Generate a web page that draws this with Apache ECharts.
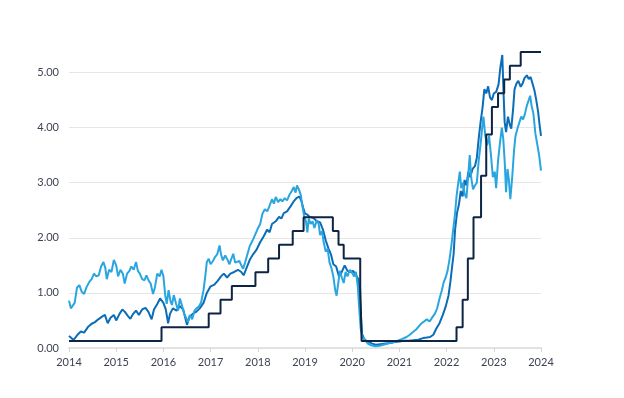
<!DOCTYPE html>
<html>
<head>
<meta charset="utf-8">
<script src="https://cdn.jsdelivr.net/npm/echarts@6/dist/echarts.min.js"></script>
<style>
  * { margin: 0px; padding: 0px; }
  body { background: #fff; }
  #main { width: 624px; height: 398px; }
</style>
</head>
<body>
<div id="main"></div>
<script type="text/javascript">
// x values are decimal years, y values are rates in %
var yearTicks = [2014, 2015, 2016, 2017, 2018, 2019, 2020, 2021, 2022, 2023, 2024];

// policy rate (mid of target range), one point per change
var policyRate = [
  [2014.00, 0.125], [2015.96, 0.375], [2016.96, 0.625], [2017.21, 0.875], [2017.45, 1.125],
  [2017.95, 1.375], [2018.22, 1.625], [2018.45, 1.875], [2018.74, 2.125], [2018.97, 2.375],
  [2019.59, 2.125], [2019.71, 1.875], [2019.82, 1.625], [2020.17, 1.125], [2020.20, 0.125],
  [2022.21, 0.375], [2022.34, 0.875], [2022.45, 1.625], [2022.57, 2.375], [2022.73, 3.125],
  [2022.84, 3.875], [2022.96, 4.375], [2023.09, 4.625], [2023.22, 4.875], [2023.34, 5.125],
  [2023.57, 5.375], [2024.00, 5.375]
];

var midBlue = [
  [2014.00, 0.22], [2014.05, 0.18], [2014.10, 0.15], [2014.18, 0.24], [2014.25, 0.30], [2014.32, 0.28],
  [2014.40, 0.38], [2014.48, 0.44], [2014.55, 0.47], [2014.62, 0.52], [2014.70, 0.57], [2014.76, 0.60],
  [2014.82, 0.45], [2014.88, 0.55], [2014.95, 0.60], [2015.00, 0.50], [2015.07, 0.62], [2015.13, 0.70],
  [2015.18, 0.66], [2015.25, 0.58], [2015.30, 0.53], [2015.36, 0.62], [2015.42, 0.68], [2015.48, 0.60],
  [2015.55, 0.70], [2015.62, 0.73], [2015.68, 0.66], [2015.75, 0.52], [2015.80, 0.70], [2015.87, 0.80],
  [2015.93, 0.90], [2016.00, 0.82], [2016.05, 0.70], [2016.10, 0.45], [2016.14, 0.62], [2016.20, 0.72],
  [2016.28, 0.68], [2016.35, 0.76], [2016.42, 0.70], [2016.46, 0.56], [2016.50, 0.42], [2016.55, 0.56],
  [2016.62, 0.62], [2016.70, 0.66], [2016.77, 0.72], [2016.85, 0.82], [2016.92, 1.00], [2017.00, 1.12],
  [2017.08, 1.15], [2017.15, 1.22], [2017.22, 1.30], [2017.28, 1.35], [2017.35, 1.28], [2017.42, 1.35],
  [2017.50, 1.38], [2017.58, 1.42], [2017.65, 1.38], [2017.70, 1.32], [2017.76, 1.45], [2017.83, 1.60],
  [2017.90, 1.70], [2017.97, 1.78], [2018.05, 1.92], [2018.12, 2.02], [2018.20, 2.15], [2018.25, 2.10],
  [2018.30, 2.25], [2018.38, 2.30], [2018.45, 2.38], [2018.50, 2.35], [2018.55, 2.45], [2018.62, 2.48],
  [2018.70, 2.58], [2018.76, 2.66], [2018.82, 2.72], [2018.88, 2.75], [2018.92, 2.68], [2018.96, 2.55],
  [2019.00, 2.44], [2019.05, 2.42], [2019.10, 2.38], [2019.18, 2.36], [2019.25, 2.30], [2019.32, 2.28],
  [2019.38, 2.15], [2019.44, 1.95], [2019.50, 1.80], [2019.55, 1.70], [2019.60, 1.52], [2019.66, 1.48],
  [2019.72, 1.30], [2019.78, 1.38], [2019.84, 1.50], [2019.90, 1.40], [2019.96, 1.38], [2020.02, 1.40],
  [2020.08, 1.32], [2020.13, 1.25], [2020.17, 0.80], [2020.21, 0.25], [2020.26, 0.15], [2020.33, 0.12],
  [2020.42, 0.08], [2020.50, 0.06], [2020.60, 0.07], [2020.70, 0.08], [2020.80, 0.09], [2020.90, 0.11],
  [2021.00, 0.12], [2021.10, 0.13], [2021.20, 0.13], [2021.30, 0.14], [2021.40, 0.15], [2021.50, 0.18],
  [2021.58, 0.19], [2021.65, 0.20], [2021.72, 0.24], [2021.78, 0.35], [2021.85, 0.45], [2021.92, 0.60],
  [2021.98, 0.75], [2022.04, 0.95], [2022.08, 1.20], [2022.12, 1.50], [2022.15, 1.72], [2022.18, 2.15],
  [2022.22, 2.45], [2022.26, 2.60], [2022.30, 2.85], [2022.34, 2.75], [2022.38, 3.05], [2022.42, 2.95],
  [2022.46, 3.20], [2022.50, 3.10], [2022.55, 3.25], [2022.60, 3.30], [2022.64, 3.45], [2022.68, 3.80],
  [2022.72, 4.10], [2022.76, 4.35], [2022.80, 4.70], [2022.84, 4.62], [2022.88, 4.75], [2022.92, 4.55],
  [2022.96, 4.50], [2023.00, 4.62], [2023.05, 4.65], [2023.10, 4.78], [2023.14, 5.10], [2023.18, 5.32],
  [2023.21, 4.55], [2023.23, 4.10], [2023.26, 3.92], [2023.30, 4.20], [2023.34, 4.05], [2023.37, 3.98],
  [2023.41, 4.35], [2023.44, 4.70], [2023.48, 4.80], [2023.52, 4.85], [2023.57, 4.74], [2023.61, 4.80],
  [2023.65, 4.90], [2023.70, 4.95], [2023.74, 4.88], [2023.78, 4.92], [2023.82, 4.80], [2023.86, 4.68],
  [2023.90, 4.50], [2023.94, 4.28], [2023.97, 4.05], [2024.00, 3.85]
];

var lightBlue = [
  [2014.00, 0.86], [2014.04, 0.72], [2014.08, 0.70], [2014.12, 0.82], [2014.17, 1.10], [2014.22, 1.14],
  [2014.27, 1.02], [2014.32, 0.98], [2014.37, 1.10], [2014.43, 1.20], [2014.48, 1.25], [2014.53, 1.35],
  [2014.58, 1.30], [2014.63, 1.32], [2014.68, 1.48], [2014.73, 1.56], [2014.77, 1.45], [2014.80, 1.25],
  [2014.85, 1.42], [2014.90, 1.38], [2014.95, 1.60], [2015.00, 1.50], [2015.04, 1.30], [2015.09, 1.42],
  [2015.14, 1.35], [2015.18, 1.17], [2015.23, 1.35], [2015.28, 1.40], [2015.32, 1.48], [2015.37, 1.42],
  [2015.42, 1.56], [2015.46, 1.40], [2015.50, 1.35], [2015.55, 1.25], [2015.60, 1.23], [2015.64, 1.32],
  [2015.69, 1.22], [2015.73, 1.17], [2015.78, 0.98], [2015.82, 1.10], [2015.87, 1.35], [2015.92, 1.30],
  [2015.96, 1.42], [2016.00, 1.30], [2016.04, 0.95], [2016.07, 0.80], [2016.11, 1.05], [2016.15, 0.85],
  [2016.18, 0.78], [2016.22, 0.96], [2016.27, 0.80], [2016.31, 0.68], [2016.35, 0.90], [2016.39, 0.78],
  [2016.44, 0.62], [2016.48, 0.55], [2016.52, 0.47], [2016.56, 0.60], [2016.61, 0.52], [2016.66, 0.68],
  [2016.70, 0.72], [2016.75, 0.75], [2016.80, 0.83], [2016.85, 1.05], [2016.88, 1.25], [2016.92, 1.56],
  [2016.96, 1.62], [2017.00, 1.52], [2017.05, 1.58], [2017.10, 1.66], [2017.14, 1.70], [2017.19, 1.86],
  [2017.22, 1.70], [2017.26, 1.59], [2017.31, 1.68], [2017.36, 1.60], [2017.40, 1.52], [2017.44, 1.62],
  [2017.48, 1.71], [2017.52, 1.55], [2017.56, 1.53], [2017.61, 1.58], [2017.65, 1.50], [2017.69, 1.44],
  [2017.73, 1.55], [2017.78, 1.70], [2017.83, 1.85], [2017.89, 1.95], [2017.94, 2.05], [2017.99, 2.15],
  [2018.05, 2.25], [2018.10, 2.44], [2018.15, 2.52], [2018.20, 2.48], [2018.24, 2.56], [2018.30, 2.70],
  [2018.34, 2.62], [2018.38, 2.74], [2018.43, 2.65], [2018.48, 2.70], [2018.52, 2.66], [2018.57, 2.72],
  [2018.62, 2.68], [2018.67, 2.78], [2018.72, 2.85], [2018.76, 2.92], [2018.80, 2.82], [2018.83, 2.95],
  [2018.87, 2.88], [2018.91, 2.78], [2018.94, 2.60], [2018.98, 2.40], [2019.02, 2.30], [2019.05, 2.10],
  [2019.08, 2.35], [2019.12, 2.25], [2019.16, 2.30], [2019.20, 2.18], [2019.25, 2.32], [2019.29, 2.25],
  [2019.32, 2.05], [2019.36, 2.12], [2019.40, 1.90], [2019.44, 1.75], [2019.48, 1.80], [2019.52, 1.55],
  [2019.56, 1.45], [2019.60, 1.30], [2019.64, 1.05], [2019.67, 0.95], [2019.70, 1.15], [2019.74, 1.40],
  [2019.78, 1.28], [2019.82, 1.18], [2019.86, 1.38], [2019.90, 1.30], [2019.95, 1.42], [2020.00, 1.36],
  [2020.04, 1.30], [2020.08, 1.38], [2020.12, 1.10], [2020.15, 0.70], [2020.18, 0.35], [2020.22, 0.20],
  [2020.27, 0.15], [2020.33, 0.08], [2020.40, 0.05], [2020.50, 0.03], [2020.58, 0.04], [2020.66, 0.06],
  [2020.75, 0.08], [2020.85, 0.10], [2020.95, 0.13], [2021.05, 0.16], [2021.15, 0.20], [2021.22, 0.24],
  [2021.30, 0.30], [2021.36, 0.34], [2021.42, 0.40], [2021.47, 0.45], [2021.52, 0.48], [2021.58, 0.52],
  [2021.64, 0.48], [2021.70, 0.56], [2021.75, 0.62], [2021.80, 0.72], [2021.85, 0.90], [2021.90, 1.05],
  [2021.94, 1.20], [2021.98, 1.28], [2022.02, 1.40], [2022.06, 1.60], [2022.10, 1.85], [2022.14, 2.15],
  [2022.18, 2.45], [2022.21, 2.75], [2022.24, 2.95], [2022.28, 3.20], [2022.31, 2.90], [2022.35, 3.00],
  [2022.38, 2.80], [2022.42, 2.72], [2022.46, 3.15], [2022.49, 3.50], [2022.52, 3.10], [2022.56, 2.88],
  [2022.60, 2.95], [2022.64, 3.00], [2022.68, 3.40], [2022.72, 3.70], [2022.76, 4.05], [2022.78, 4.20],
  [2022.82, 3.85], [2022.86, 3.68], [2022.90, 3.85], [2022.94, 3.50], [2022.98, 3.10], [2023.02, 3.20],
  [2023.05, 2.90], [2023.09, 3.40], [2023.13, 3.72], [2023.17, 4.00], [2023.20, 3.80], [2023.23, 3.40],
  [2023.26, 2.83], [2023.29, 3.25], [2023.32, 3.05], [2023.35, 2.70], [2023.39, 3.10], [2023.43, 3.60],
  [2023.46, 3.85], [2023.50, 3.98], [2023.54, 3.95], [2023.58, 4.20], [2023.62, 4.15], [2023.66, 4.25],
  [2023.70, 4.40], [2023.74, 4.50], [2023.77, 4.58], [2023.80, 4.40], [2023.84, 4.25], [2023.88, 3.90],
  [2023.92, 3.70], [2023.96, 3.50], [2024.00, 3.22]
];

var myChart = echarts.init(document.getElementById('main'));

var labelStyle = { color: '#3d4352', fontSize: 11, fontFamily: 'Lato, sans-serif' };

myChart.setOption({
    animation: false,
    grid: { left: 69, right: 83, top: 45, bottom: 50 },
    xAxis: {
        type: 'value',
        min: yearTicks[0],
        max: yearTicks[yearTicks.length - 1],
        interval: 1,
        axisLine: { show: true, lineStyle: { color: '#e2e2e2', width: 2 } },
        axisTick: { show: true, length: 4, lineStyle: { color: '#d6d6d6' } },
        splitLine: { show: false },
        axisLabel: Object.assign({ margin: 9, formatter: function (v) { return String(v); } }, labelStyle)
    },
    yAxis: {
        type: 'value',
        min: 0,
        max: 5.5,
        interval: 1,
        axisLine: { show: false },
        axisTick: { show: false },
        splitLine: { show: true, showMaxLine: false, lineStyle: { color: '#e6e6e6', width: 1 } },
        axisLabel: Object.assign({ margin: 10, showMaxLabel: false, formatter: function (v) { return v.toFixed(2); } }, labelStyle)
    },
    series: [
        {
            name: 'mid',
            type: 'line',
            data: midBlue,
            showSymbol: false,
            lineStyle: { color: '#0b6db8', width: 2 },
            z: 2
        },
        {
            name: 'light',
            type: 'line',
            data: lightBlue,
            showSymbol: false,
            lineStyle: { color: '#29a6e0', width: 2 },
            z: 3
        },
        {
            name: 'policy',
            type: 'line',
            step: 'end',
            data: policyRate,
            showSymbol: false,
            lineStyle: { color: '#0d2444', width: 2 },
            z: 4
        }
    ]
});
</script>
</body>
</html>
